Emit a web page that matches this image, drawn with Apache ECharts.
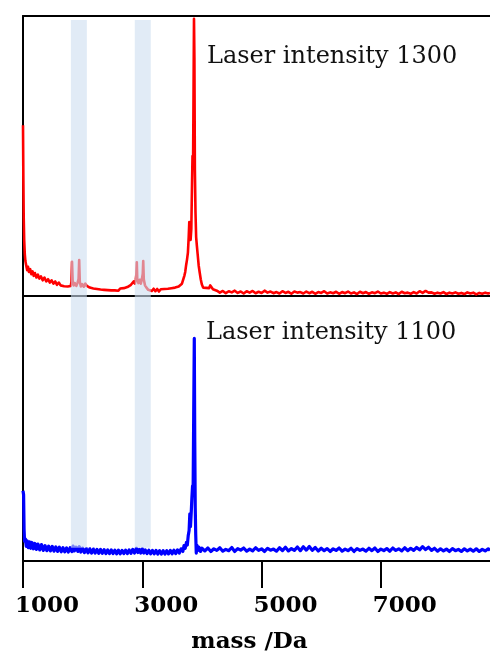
<!DOCTYPE html>
<html>
<head>
<meta charset="utf-8">
<style>
html,body{margin:0;padding:0;background:#fff;}
#chart{width:490px;height:655px;}
</style>
<script src="https://cdn.jsdelivr.net/npm/echarts@6/dist/echarts.min.js"></script>
</head>
<body>
<div id="chart"></div>
<script>
// ---- data (mass in Da, relative intensity 0-100 per panel) ----
const tickValues = [1000, 3000, 5000, 7000];
const panelLabels = ['Laser intensity 1300', 'Laser intensity 1100'];
const bandRanges = [[1803, 2071], [2874, 3142]];

const redSpectrum = [
 [1000,61],[1006,42],[1012,28],[1020,20],[1030,15],[1040,12.5],[1055,10.8],[1070,9.2],[1085,10.4],[1100,8.6],
 [1120,9.6],[1140,7.8],[1160,8.8],[1180,7.2],[1200,8.2],[1225,6.6],[1250,7.6],[1275,6.2],[1300,7.0],[1330,5.6],
 [1360,6.6],[1390,5.2],[1420,6.0],[1450,4.8],[1480,5.6],[1510,4.4],[1540,5.2],[1570,4.0],[1600,4.8],[1630,3.8],
 [1660,4.4],[1690,3.5],[1720,4.2],[1750,3.4],[1780,4.0],[1800,3.6],[1812,5.0],[1822,12.2],[1832,5.5],[1850,3.8],
 [1870,4.6],[1895,3.6],[1915,4.8],[1932,6.0],[1942,12.8],[1952,5.2],[1970,3.4],[1995,4.2],[2020,3.3],[2045,4.4],
 [2070,3.6],[2095,4.2],[2120,3.0],[2150,3.7],[2180,2.7],[2210,3.4],[2240,2.5],[2270,3.2],[2300,2.3],[2330,3.0],
 [2360,2.2],[2390,2.9],[2420,2.1],[2450,2.8],[2480,2.0],[2510,2.7],[2540,2.0],[2570,2.6],[2600,1.9],[2630,2.7],
 [2660,2.0],[2690,2.8],[2720,2.3],[2750,3.2],[2780,2.8],[2810,4.0],[2835,3.6],[2855,5.2],[2875,4.4],[2890,5.8],
 [2900,7.5],[2908,12.0],[2916,6.0],[2935,4.6],[2955,5.8],[2975,4.4],[2995,6.2],[3008,8.0],[3016,12.5],[3025,6.0],
 [3045,3.8],[3070,3.0],[3100,2.2],[3130,2.8],[3160,1.8],[3190,2.6],[3220,1.7],[3250,2.5],[3280,1.6],[3310,2.4],
 [3340,1.7],[3370,2.5],[3400,1.8],[3430,2.6],[3460,1.9],[3490,2.8],[3520,2.2],[3550,3.0],[3580,2.6],[3610,3.4],
 [3640,3.2],[3665,4.4],[3685,5.0],[3705,7.2],[3720,8.6],[3735,11.0],[3750,13.0],[3765,15.5],[3778,21.0],[3788,26.4],
 [3798,24.0],[3810,20.0],[3822,24.0],[3834,40.0],[3842,50.0],[3852,48.0],[3860,75.0],[3867,99.0],[3874,85.0],[3882,45.0],
 [3892,30.0],[3903,21.0],[3915,18.0],[3928,15.0],[3945,11.0],[3962,8.5],[3980,6.0],[3998,4.2],[4020,3.0],[4045,2.4],
 [4070,2.9],[4095,2.2],[4120,2.8],[4140,3.8],[4152,4.4],[4165,3.4],[4185,2.4],[4210,2.0],
 [4250,1.9],[4300,1.2],[4350,1.8],[4400,1.0],[4450,1.7],[4500,1.3],[4550,1.9],[4600,1.1],[4650,1.6],[4700,0.9],
 [4750,1.7],[4800,1.2],[4850,1.8],[4900,1.0],[4950,1.5],[5000,1.1],[5050,1.9],[5100,1.2],[5150,1.6],[5200,1.0],
 [5250,1.4],[5300,0.9],[5350,1.7],[5400,1.1],[5450,1.5],[5500,0.8],[5550,1.6],[5600,1.2],[5650,1.4],[5700,0.9],
 [5750,1.6],[5800,1.0],[5850,1.5],[5900,0.8],[5950,1.4],[6000,1.1],[6050,1.7],[6100,0.9],[6150,1.3],[6200,1.0],
 [6250,1.5],[6300,0.8],[6350,1.4],[6400,1.0],[6450,1.6],[6500,0.9],[6550,1.3],[6600,0.7],[6650,1.5],[6700,1.0],
 [6750,1.4],[6800,0.8],[6850,1.3],[6900,1.0],[6950,1.6],[7000,0.9],[7050,1.2],[7100,0.8],[7150,1.4],[7200,0.9],
 [7250,1.3],[7300,0.7],[7350,1.5],[7400,1.0],[7450,1.2],[7500,0.8],[7550,1.4],[7600,0.9],[7650,1.7],[7700,1.1],
 [7750,1.8],[7800,1.2],[7850,1.3],[7900,0.8],[7950,1.2],[8000,0.9],[8050,1.4],[8100,0.7],[8150,1.2],[8200,0.9],
 [8250,1.3],[8300,0.8],[8350,1.1],[8400,0.7],[8450,1.3],[8500,0.9],[8550,1.2],[8600,0.6],[8650,1.1],[8700,0.8],
 [8750,1.2],[8800,0.9],[8830,1.1]
];

const blueSpectrum = [
 [1000,26.5],[1010,25],[1018,12],[1026,7.5],[1040,8.3],[1055,5.5],[1070,7.6],[1090,5.0],[1110,7.2],[1130,4.8],
 [1150,7.0],[1175,4.6],[1200,6.6],[1225,4.4],[1250,6.4],[1280,4.2],[1310,6.2],[1340,4.0],[1370,5.8],[1400,3.9],
 [1430,5.6],[1460,3.8],[1490,5.5],[1520,3.7],[1550,5.3],[1580,3.6],[1610,5.2],[1640,3.5],[1670,5.0],[1700,3.5],
 [1730,4.9],[1760,3.4],[1790,5.0],[1820,3.6],[1840,5.6],[1860,3.8],[1890,5.2],[1920,3.6],[1945,5.4],[1970,3.4],
 [2000,4.8],[2030,3.2],[2060,4.7],[2090,3.1],[2120,4.6],[2150,3.0],[2180,4.5],[2210,3.0],[2240,4.4],[2270,2.9],
 [2300,4.4],[2330,2.9],[2360,4.3],[2390,2.8],[2420,4.2],[2450,2.8],[2480,4.2],[2510,2.8],[2540,4.1],[2570,2.7],
 [2600,4.1],[2630,2.7],[2660,4.0],[2690,2.8],[2720,4.1],[2750,2.8],[2780,4.2],[2810,2.9],[2840,4.4],[2870,3.0],
 [2900,4.8],[2925,3.2],[2950,4.4],[2975,3.0],[3000,4.6],[3025,3.0],[3050,4.2],[3080,2.8],[3110,4.1],[3140,2.7],
 [3170,4.0],[3200,2.7],[3230,4.0],[3260,2.6],[3290,3.9],[3320,2.6],[3350,3.9],[3380,2.6],[3410,3.9],[3440,2.7],
 [3470,4.0],[3500,2.7],[3530,4.1],[3560,2.8],[3590,4.2],[3620,3.0],[3650,4.6],[3680,3.6],[3700,5.8],[3720,4.8],
 [3740,7.0],[3755,6.0],[3770,9.5],[3785,11.5],[3797,17.8],[3808,13.0],[3820,18.0],[3832,24.0],[3843,28.4],[3852,26.0],
 [3862,55.0],[3872,84.0],[3880,45.0],[3888,20.0],[3896,10.0],[3905,3.0],[3915,6.0],[3930,4.0],[3950,5.2],[3975,3.6],
 [4000,4.8],
 [4050,3.8],[4100,4.9],[4150,3.6],[4200,4.6],[4250,4.0],[4300,5.0],[4350,3.7],[4400,4.4],[4450,3.9],[4500,5.1],
 [4550,3.6],[4600,4.7],[4650,4.1],[4700,4.9],[4750,3.7],[4800,4.5],[4850,3.8],[4900,5.0],[4950,4.0],[5000,4.6],
 [5050,3.6],[5100,4.8],[5150,4.1],[5200,4.5],[5250,3.7],[5300,5.0],[5350,3.9],[5400,5.2],[5450,3.8],[5500,4.7],
 [5550,4.0],[5600,5.3],[5650,3.9],[5700,5.4],[5750,4.1],[5800,5.5],[5850,4.0],[5900,5.1],[5950,3.8],[6000,4.8],
 [6050,3.9],[6100,4.7],[6150,3.6],[6200,4.6],[6250,4.0],[6300,4.9],[6350,3.7],[6400,4.5],[6450,3.9],[6500,4.8],
 [6550,3.6],[6600,4.7],[6650,4.0],[6700,4.5],[6750,3.7],[6800,4.8],[6850,3.9],[6900,4.9],[6950,3.6],[7000,4.5],
 [7050,3.9],[7100,4.7],[7150,3.7],[7200,4.9],[7250,4.0],[7300,4.6],[7350,3.8],[7400,5.0],[7450,3.9],[7500,4.8],
 [7550,4.0],[7600,5.1],[7650,4.2],[7700,5.4],[7750,4.3],[7800,5.2],[7850,4.0],[7900,4.8],[7950,3.7],[8000,4.6],
 [8050,3.8],[8100,4.5],[8150,3.6],[8200,4.7],[8250,3.9],[8300,4.4],[8350,3.6],[8400,4.6],[8450,3.8],[8500,4.5],
 [8550,3.7],[8600,4.6],[8650,3.6],[8700,4.4],[8750,3.8],[8800,4.6],[8830,4.0]
];

// ---- chart ----
const SERIF = '"DejaVu Serif", "Liberation Serif", serif';
const X_MIN = 1000, X_MAX = 8830;
const chart = echarts.init(document.getElementById('chart'), null, {renderer: 'canvas'});

function bandData(yTop, yBottom) {
  return bandRanges.map(r => [{xAxis: r[0], yAxis: yTop}, {xAxis: r[1], yAxis: yBottom}]);
}
const bandStyle = {color: 'rgba(205,222,240,0.6)'};
const lineAxisStyle = {show: true, lineStyle: {color: '#000', width: 2}};

chart.setOption({
  animation: false,
  backgroundColor: '#fff',
  grid: [
    {left: 23, right: 0, top: 16, height: 280},
    {left: 23, right: 0, top: 296, height: 265}
  ],
  xAxis: [
    {type: 'value', gridIndex: 0, min: X_MIN, max: X_MAX, position: 'bottom',
     axisLine: lineAxisStyle, axisTick: {show: false}, axisLabel: {show: false}, splitLine: {show: false}},
    {type: 'value', gridIndex: 0, min: X_MIN, max: X_MAX, position: 'top',
     axisLine: lineAxisStyle, axisTick: {show: false}, axisLabel: {show: false}, splitLine: {show: false}},
    {type: 'value', gridIndex: 1, min: X_MIN, max: X_MAX, position: 'bottom',
     axisLine: lineAxisStyle,
     axisTick: {show: true, length: 27, customValues: tickValues, lineStyle: {color: '#000', width: 2}},
     axisLabel: {show: true, customValues: tickValues, margin: 34,
       formatter: v => '{t|' + v + '}',
       rich: {t: {padding: [0, 0, 0, 48], fontFamily: SERIF, fontWeight: 'bold', fontSize: 23, color: '#000'}}},
     splitLine: {show: false},
     name: 'mass /Da', nameLocation: 'middle', nameGap: 70,
     nameTextStyle: {fontFamily: SERIF, fontWeight: 'bold', fontSize: 23, color: '#000', padding: [0, 14, 0, 0]}}
  ],
  yAxis: [
    {type: 'value', gridIndex: 0, min: 0, max: 100, axisLine: lineAxisStyle,
     axisTick: {show: false}, axisLabel: {show: false}, splitLine: {show: false}},
    {type: 'value', gridIndex: 1, min: 0, max: 100, axisLine: lineAxisStyle,
     axisTick: {show: false}, axisLabel: {show: false}, splitLine: {show: false}}
  ],
  series: [
    {type: 'line', xAxisIndex: 0, yAxisIndex: 0, data: redSpectrum, showSymbol: false, z: 2,
     lineStyle: {color: '#ff0000', width: 2.6, join: 'round'}, itemStyle: {color: '#ff0000'}},
    {type: 'line', xAxisIndex: 2, yAxisIndex: 1, data: blueSpectrum, showSymbol: false, z: 2,
     lineStyle: {color: '#0000ff', width: 3.2, join: 'round'}, itemStyle: {color: '#0000ff'}},
    {type: 'line', xAxisIndex: 0, yAxisIndex: 0, data: [], z: 5,
     markArea: {silent: true, z: 10, itemStyle: bandStyle, data: bandData(98.6, 0)}},
    {type: 'line', xAxisIndex: 2, yAxisIndex: 1, data: [], z: 5,
     markArea: {silent: true, z: 10, itemStyle: bandStyle, data: bandData(100, 5.0)}}
  ],
  graphic: [
    {type: 'text', left: 207, top: 45, z: 20,
     style: {text: panelLabels[0], font: '24px ' + SERIF, fill: '#111'}},
    {type: 'text', left: 206, top: 321, z: 20,
     style: {text: panelLabels[1], font: '24px ' + SERIF, fill: '#111'}}
  ]
});
</script>
</body>
</html>
